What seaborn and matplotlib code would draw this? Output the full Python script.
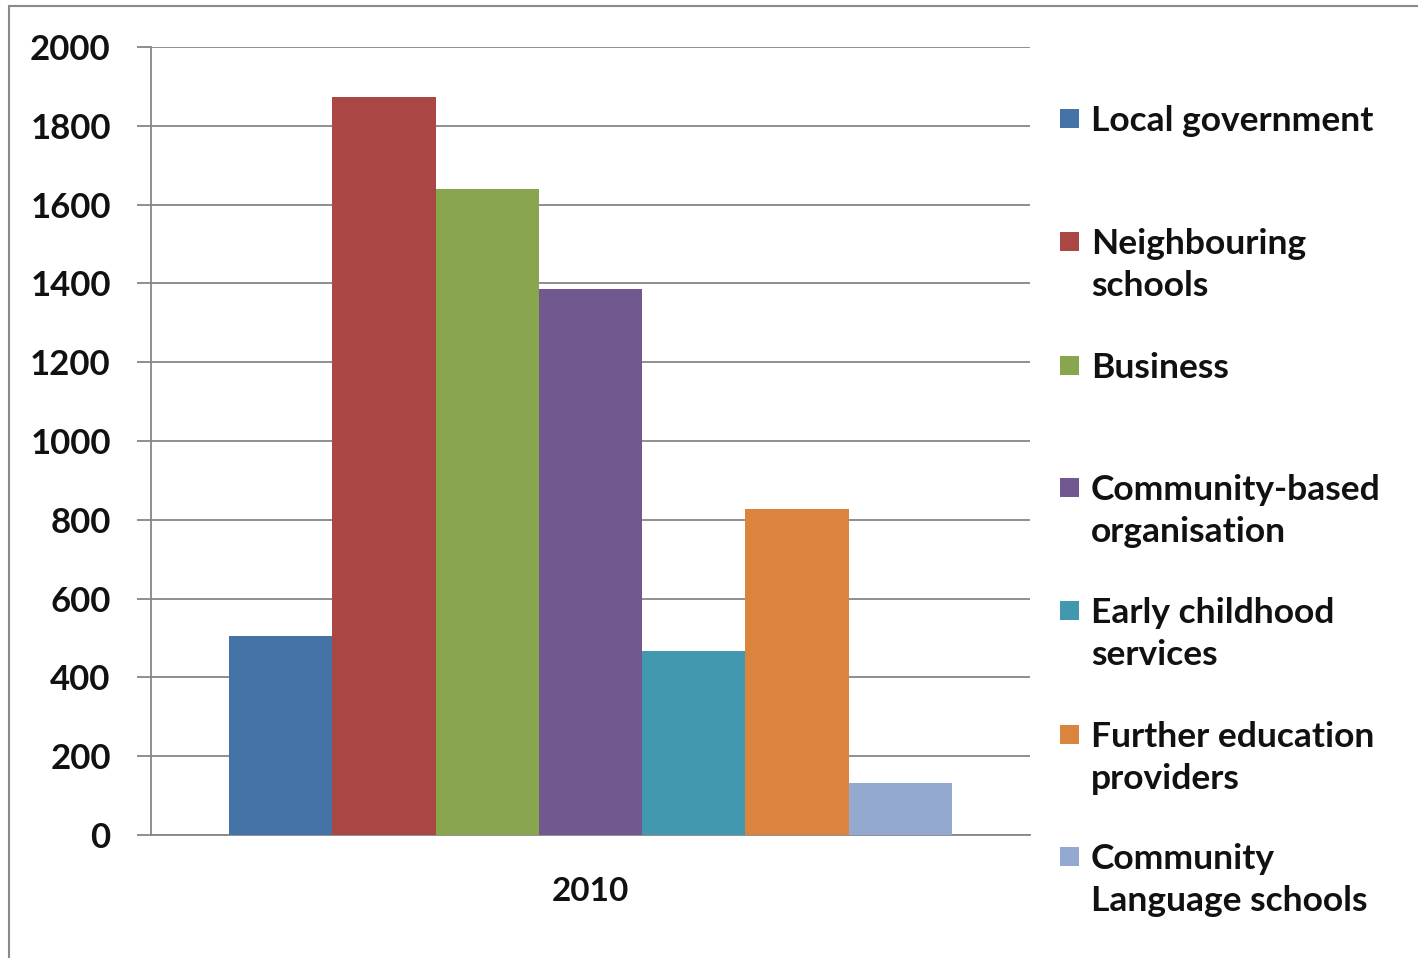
import matplotlib
matplotlib.use("Agg")
import matplotlib.pyplot as plt
from matplotlib.patches import Rectangle
import seaborn as sns
import pandas as pd

years = ["2010"]
categories = [
    "Local government",
    "Neighbouring schools",
    "Business",
    "Community-based organisation",
    "Early childhood services",
    "Further education providers",
    "Community Language schools",
]
legend_labels = [
    "Local government",
    "Neighbouring\nschools",
    "Business",
    "Community-based\norganisation",
    "Early childhood\nservices",
    "Further education\nproviders",
    "Community\nLanguage schools",
]
values = [505, 1873, 1640, 1386, 467, 827, 132]
colors = ["#4572A7", "#AA4643", "#89A54E", "#71588F", "#4198AF", "#DB843D", "#93A9CF"]
yticks = [0, 200, 400, 600, 800, 1000, 1200, 1400, 1600, 1800, 2000]

df = pd.DataFrame({"year": years * len(categories), "category": categories, "value": values})

sns.set_theme(style="white")
plt.rcParams["font.family"] = ["Lato", "DejaVu Sans"]

W, H = 1418, 958
fig = plt.figure(figsize=(W / 100, H / 100), dpi=100)
ax = fig.add_axes([151 / W, 1 - 835 / H, (1030 - 151) / W, (835 - 47) / H])

sns.barplot(data=df, x="year", y="value", hue="category", hue_order=categories,
            palette=colors, width=0.822, gap=0, ax=ax, legend=False,
            saturation=1, edgecolor="none", linewidth=0, zorder=3)

ax.set_xlim(-0.5, 0.5)
ax.set_ylim(0, 2000)
ax.set_yticks(yticks)
ax.set_yticklabels([str(t) for t in yticks], fontsize=25, fontweight="bold", color="#111111")
ax.yaxis.grid(True, color="#868686", linewidth=1.3, zorder=0)
ax.set_axisbelow(True)
ax.set_xlabel("")
ax.set_ylabel("")
ax.set_xticks([0])
ax.set_xticklabels(years, fontsize=24, fontweight="bold", color="#111111")
ax.tick_params(axis="x", length=0, pad=30)
ax.set_xticks([-0.5, 0.5], minor=True)
ax.tick_params(axis="x", which="minor", length=10, width=1.3, color="#868686", direction="out")
ax.tick_params(axis="y", length=10, width=1.3, color="#868686", direction="out", left=True, pad=19)
for s in ["top", "right"]:
    ax.spines[s].set_visible(False)
for s in ["left", "bottom"]:
    ax.spines[s].set_color("#868686")
    ax.spines[s].set_linewidth(1.3)

# legend entries, evenly spaced by center
centers = [119, 242, 366, 488, 611, 735, 857]
for lab, col, yc in zip(legend_labels, colors, centers):
    fig.add_artist(Rectangle((1060 / W, 1 - (yc + 9) / H), 19 / W, 19 / H,
                             transform=fig.transFigure, facecolor=col, edgecolor="none"))
    fig.text(1091 / W, 1 - (yc - 14) / H, lab, fontsize=25.5, fontweight="bold",
             color="#111111", va="top", ha="left", linespacing=1.4)

# outer chart border
fig.add_artist(Rectangle((9 / W, -0.1), 1.2, 1 - 6 / H + 0.1, transform=fig.transFigure,
                         facecolor="none", edgecolor="#8a8a8a", linewidth=1.5))

fig.savefig("out.png", dpi=100)
